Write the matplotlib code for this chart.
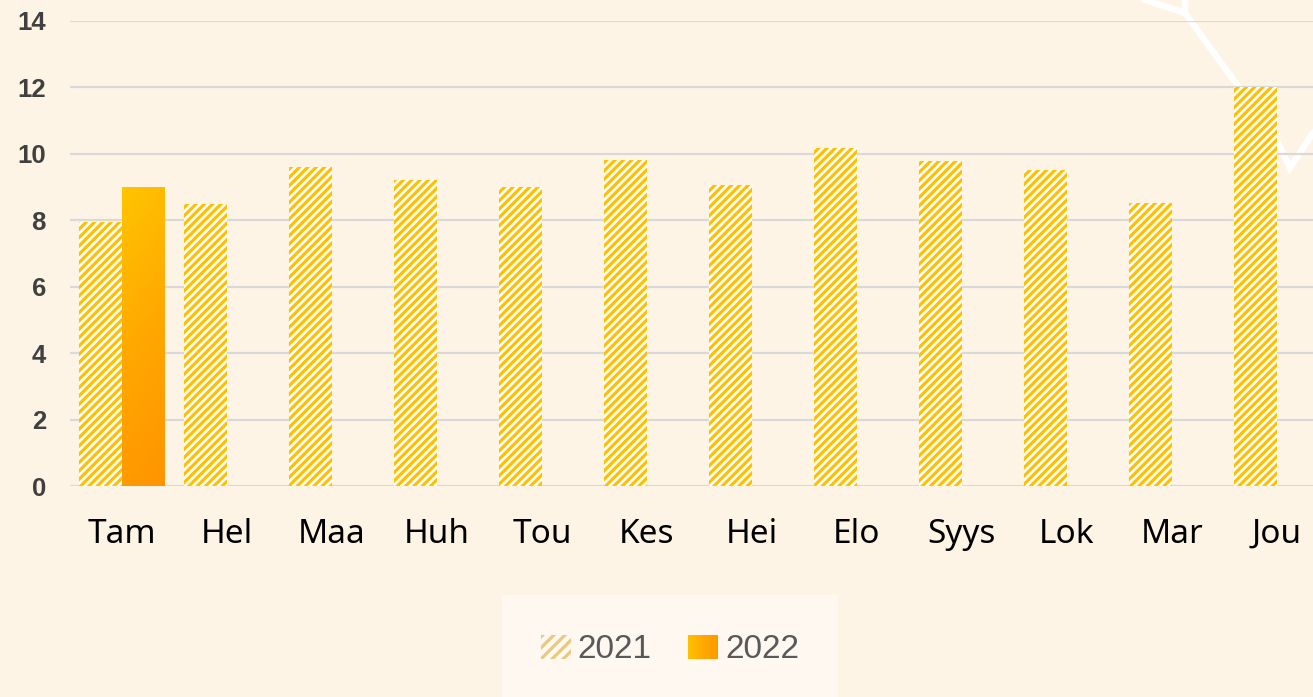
import matplotlib
matplotlib.use('Agg')
import matplotlib.pyplot as plt
import numpy as np
from matplotlib.patches import Patch, Rectangle
from matplotlib.legend_handler import HandlerBase
from matplotlib.colors import LinearSegmentedColormap
from matplotlib.lines import Line2D

# data
months = ["Tam", "Hel", "Maa", "Huh", "Tou", "Kes", "Hei", "Elo", "Syys", "Lok", "Mar", "Jou"]
values_2021 = [7.95, 8.5, 9.6, 9.2, 9.0, 9.8, 9.07, 10.18, 9.78, 9.52, 8.52, 12.02]
values_2022 = [9.0]
series_labels = ["2021", "2022"]
y_ticks = [0, 2, 4, 6, 8, 10, 12, 14]

BG = "#FEF4E6"
YELLOW = "#FFC000"
grad = LinearSegmentedColormap.from_list("grad", ["#FFC400", "#FFA800", "#FF9400"])

plt.rcParams['hatch.linewidth'] = 2.3

fig = plt.figure(figsize=(13.13, 6.97), dpi=100, facecolor=BG)

# background ornament (white thin lines, top right)
W, H = 1313.0, 697.0
def px(pts):
    xs = [p[0] / W for p in pts]
    ys = [1 - p[1] / H for p in pts]
    return xs, ys

for pts in ([(1145, 0), (1185, 13), (1237, 85), (1278, 143), (1290, 168), (1313, 133)],
            [(1185, 0), (1185, 13)]):
    xs, ys = px(pts)
    fig.add_artist(Line2D(xs, ys, transform=fig.transFigure, color="white",
                          lw=4.5, zorder=-5, solid_joinstyle="miter"))

ax = fig.add_axes([69.5 / W, (H - 486) / H, 1260 / W, 465 / H])
ax.set_facecolor("none")

x = np.arange(len(months))
w = 0.405

bars21 = ax.bar(x - w / 2, values_2021, width=w, facecolor="white", edgecolor=YELLOW,
                hatch="////", linewidth=0, zorder=3)

bars22 = ax.bar(x[:len(values_2022)] + w / 2, values_2022, width=w, color="none",
                linewidth=0, zorder=3)
# diagonal gradient inside the 2022 bars
gy, gx = np.mgrid[0:1:200j, 0:1:50j]
gimg = gy * 0.85 + gx * 0.15
for b in bars22:
    x0, y0 = b.get_x(), b.get_y()
    im = ax.imshow(gimg, cmap=grad, aspect="auto", origin="upper",
                   extent=[x0, x0 + b.get_width(), y0, y0 + b.get_height()], zorder=3)
    im.set_clip_path(b)

ax.set_xlim(-0.5, len(months) - 0.5)
ax.set_ylim(0, 14)
ax.set_yticks(y_ticks)
ax.set_xticks(x)
ax.set_xticklabels(months, fontsize=24, family="Noto Sans", color="black")
for t in ax.get_yticklabels():
    t.set_fontsize(18.5)
    t.set_fontweight("bold")
    t.set_family("Liberation Sans")
    t.set_color("#404040")
ax.tick_params(axis="y", length=0, pad=17)
ax.tick_params(axis="x", length=0, pad=23)
for s in ax.spines.values():
    s.set_visible(False)
ax.yaxis.grid(True, color="#D9D9D9", linewidth=1.6, zorder=0)
ax.set_axisbelow(True)

# legend box
fig.add_artist(Rectangle((502 / W, 0), 336 / W, (H - 595) / H, transform=fig.transFigure,
                         facecolor="#FEF8F1", edgecolor="none", zorder=1))


class GradientHandler(HandlerBase):
    def create_artists(self, legend, orig_handle, xdescent, ydescent, width, height, fontsize, trans):
        n = 24
        out = []
        for i in range(n):
            r = Rectangle((-xdescent + i * width / n, -ydescent), width / n * 1.1, height,
                          facecolor=grad(0.1 + 0.8 * i / (n - 1)), edgecolor="none", transform=trans)
            out.append(r)
        return out


h21 = Patch(facecolor="none", edgecolor="#E9C880", hatch="///", linewidth=0)
h22 = Patch(facecolor=YELLOW)
leg = fig.legend([h21, h22], series_labels, loc="center", bbox_to_anchor=(670 / W, 1 - 650 / H),
                 ncol=2, frameon=False, handlelength=0.9, handleheight=0.75, handletextpad=0.2,
                 columnspacing=1.1, handler_map={h22: GradientHandler()},
                 prop={"family": "Liberation Sans", "size": 24})
for t in leg.get_texts():
    t.set_color("#595959")

fig.savefig("out.png", dpi=100, facecolor=BG)
